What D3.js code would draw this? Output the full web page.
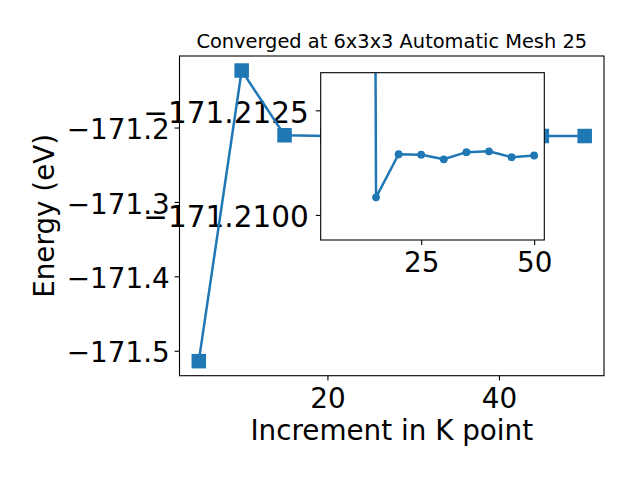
<!DOCTYPE html>
<html>
<head>
<meta charset="utf-8">
<script src="https://cdn.jsdelivr.net/npm/d3@7"></script>
<style>
  body { margin: 0; background: #fff; }
  text { font-family: 'DejaVu Sans', sans-serif; fill: #000; }
</style>
</head>
<body>
<div id="chart"></div>
<script>
'use strict';

// main convergence series
var kPoints = [5, 10, 15, 20, 25, 30, 35, 40, 45, 50];
var energies = [-171.514, -171.1234, -171.21042, -171.21145, -171.21144, -171.21133, -171.2115, -171.21152, -171.21138, -171.21142];

// zoomed inset series
var insetKPoints = [10, 15, 20, 25, 30, 35, 40, 45, 50];
var insetEnergies = [-171.35, -171.21042, -171.21145, -171.21144, -171.21133, -171.2115, -171.21152, -171.21138, -171.21142];

var xTicks = [20, 40];
var yTicks = [-171.5, -171.4, -171.3, -171.2];
var insetXTicks = [25, 50];
var insetYTicks = [-171.2125, -171.21];
var insetYLimits = [-171.2134, -171.2094];

var titleText = 'Converged at 6x3x3 Automatic Mesh 25';
var xLabel = 'Increment in K point';
var yLabel = 'Energy (eV)';

function convergencePlot() {

  var scope = {};
  var exports = {};

  scope.color = '#1f77b4';
  scope.bigFont = '27.8px';
  scope.tick = 4.9;

  // matplotlib style 5% padding
  scope.padded = function(values) {
    var ext = d3.extent(values);
    var pad = (ext[1] - ext[0]) * 0.05;
    return [ext[0] - pad, ext[1] + pad];
  }

  scope.appendSvg = function(div) {
    return d3.select(div).append('svg')
      .attr('width', 640)
      .attr('height', 480);
  }

  scope.appendGroup = function(svg, box) {
    return svg.append('g')
      .attr('transform', 'translate(' + box.left + ',' + box.top + ')');
  }

  scope.styleAxis = function(g, dy, size) {
    g.select('.domain').remove();
    g.selectAll('.tick line').attr('stroke', '#000').attr('stroke-width', 1.1);
    g.selectAll('.tick text')
      .style('font-size', size)
      .style('font-family', "'DejaVu Sans', sans-serif")
      .attr('fill', '#000')
      .attr('dy', dy);
  }

  scope.drawAxes = function(g, box, xs, ys, xt, yt, xFmt, yFmt, yPad, ySize) {
    var h = box.bottom - box.top;
    var xAxisGroup = g.append('g')
      .attr('transform', 'translate(0,' + h + ')')
      .call(d3.axisBottom(xs).tickValues(xt).tickSize(scope.tick).tickPadding(scope.tick).tickFormat(xFmt));
    scope.styleAxis(xAxisGroup, '0.8em', scope.bigFont);

    var yAxisGroup = g.append('g')
      .call(d3.axisLeft(ys).tickValues(yt).tickSize(scope.tick).tickPadding(yPad).tickFormat(yFmt));
    scope.styleAxis(yAxisGroup, '0.4em', ySize);
  }

  scope.drawSeries = function(g, box, xs, ys, data, marker, clipId) {
    var w = box.right - box.left;
    var h = box.bottom - box.top;

    g.append('clipPath').attr('id', clipId)
      .append('rect').attr('width', w).attr('height', h);

    var plot = g.append('g').attr('clip-path', 'url(#' + clipId + ')');

    var line = d3.line()
      .x(function(d) { return xs(d.k); })
      .y(function(d) { return ys(d.e); });

    plot.append('path')
      .datum(data)
      .attr('d', line)
      .attr('fill', 'none')
      .attr('stroke', scope.color)
      .attr('stroke-width', 2.5)
      .attr('stroke-linejoin', 'round');

    if (marker === 'square') {
      var s = 14.5;
      plot.selectAll('.point')
        .data(data)
        .enter()
        .append('rect')
        .attr('class', 'point')
        .attr('x', function(d) { return xs(d.k) - s / 2; })
        .attr('y', function(d) { return ys(d.e) - s / 2; })
        .attr('width', s)
        .attr('height', s)
        .attr('fill', scope.color);
    } else {
      plot.selectAll('.point')
        .data(data)
        .enter()
        .append('circle')
        .attr('class', 'point')
        .attr('cx', function(d) { return xs(d.k); })
        .attr('cy', function(d) { return ys(d.e); })
        .attr('r', 3.9)
        .attr('fill', scope.color);
    }
  }

  scope.drawFrame = function(g, box) {
    g.append('rect')
      .attr('width', box.right - box.left)
      .attr('height', box.bottom - box.top)
      .attr('fill', 'none')
      .attr('stroke', '#000')
      .attr('stroke-width', 1.1);
  }

  exports.run = function(div) {
    var svg = scope.appendSvg(div);

    var main = { left: 179.5, right: 604, top: 56, bottom: 375.7 };
    var inset = { left: 320.7, right: 544.3, top: 72.7, bottom: 240 };

    var mainData = kPoints.map(function(k, i) { return { k: k, e: energies[i] }; });
    var insetData = insetKPoints.map(function(k, i) { return { k: k, e: insetEnergies[i] }; });

    var xScale = d3.scaleLinear().domain(scope.padded(kPoints)).range([0, main.right - main.left]);
    var yScale = d3.scaleLinear().domain(scope.padded(energies)).range([main.bottom - main.top, 0]);

    // inset keeps the same k range as the main plot, its energy axis runs downward
    var ixScale = d3.scaleLinear().domain(scope.padded(kPoints)).range([0, inset.right - inset.left]);
    var iyScale = d3.scaleLinear().domain(insetYLimits).range([0, inset.bottom - inset.top]);

    var mainGroup = scope.appendGroup(svg, main);
    scope.drawAxes(mainGroup, main, xScale, yScale, xTicks, yTicks,
      d3.format('d'), d3.format('.1f'), scope.tick, scope.bigFont);

    var insetAxesGroup = scope.appendGroup(svg, inset);
    scope.drawAxes(insetAxesGroup, inset, ixScale, iyScale, insetXTicks, insetYTicks,
      d3.format('d'), d3.format('.4f'), 7, '29.5px');

    var mainPlot = scope.appendGroup(svg, main);
    scope.drawSeries(mainPlot, main, xScale, yScale, mainData, 'square', 'clipMain');
    scope.drawFrame(mainPlot, main);

    var insetPlot = scope.appendGroup(svg, inset);
    insetPlot.append('rect')
      .attr('width', inset.right - inset.left)
      .attr('height', inset.bottom - inset.top)
      .attr('fill', '#fff');
    scope.drawSeries(insetPlot, inset, ixScale, iyScale, insetData, 'circle', 'clipInset');
    scope.drawFrame(insetPlot, inset);

    svg.append('text')
      .attr('x', (main.left + main.right) / 2)
      .attr('y', 48)
      .attr('text-anchor', 'middle')
      .style('font-size', '19.4px')
      .text(titleText);

    svg.append('text')
      .attr('x', (main.left + main.right) / 2)
      .attr('y', 440)
      .attr('text-anchor', 'middle')
      .style('font-size', scope.bigFont)
      .text(xLabel);

    svg.append('text')
      .attr('transform', 'translate(54,' + ((main.top + main.bottom) / 2) + ') rotate(-90)')
      .attr('text-anchor', 'middle')
      .style('font-size', scope.bigFont)
      .text(yLabel);

    return svg;
  }

  return exports;
}

convergencePlot().run('#chart');
</script>
</body>
</html>
